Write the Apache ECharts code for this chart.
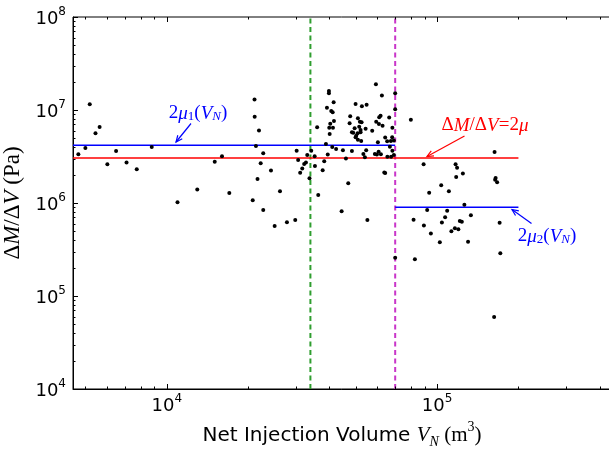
<!DOCTYPE html>
<html><head><meta charset="utf-8">
<script src="https://cdn.jsdelivr.net/npm/echarts@6/dist/echarts.min.js"></script>
<style>html,body{margin:0;padding:0;background:#fff}#c{width:609px;height:450px}</style>
</head><body><div id="c"></div>
<script>
// ---- axis ranges and ticks ----
const xRange = [4500, 500000];
const yRange = [1e4, 1e8];
const xMajorTicks = [1e4, 1e5];
const xMinorTicks = [5000, 6000, 7000, 8000, 9000, 2e4, 3e4, 4e4, 5e4, 6e4, 7e4, 8e4, 9e4, 2e5, 3e5, 4e5];
const yMajorTicks = [1e4, 1e5, 1e6, 1e7, 1e8];
const yMinorTicks = [2e4,3e4,4e4,5e4,6e4,7e4,8e4,9e4,2e5,3e5,4e5,5e5,6e5,7e5,8e5,9e5,
  2e6,3e6,4e6,5e6,6e6,7e6,8e6,9e6,2e7,3e7,4e7,5e7,6e7,7e7,8e7,9e7];

// ---- fitted levels ----
const splitVolumes = [34000, 70000];   // green, magenta dashed lines
const fitEndVolume = 200000;
const twoMu = 3.05e6;   // ΔM/ΔV = 2μ
const twoMu1 = 4.17e6;  // 2μ1(V_N), V_N < 70000
const twoMu2 = 9.0e5;   // 2μ2(V_N), V_N > 70000

// ---- observations [V_N (m^3), ΔM/ΔV (Pa)] ----
const observations = [
 [4710,3.34e6],[5000,3.90e6],[5190,1.15e7],[5450,5.62e6],[5645,6.56e6],[6030,2.61e6],[6495,3.62e6],
 [7100,2.73e6],[7745,2.30e6],[8800,4.00e6],[10960,1.02e6],[12970,1.40e6],[15050,2.78e6],[16010,3.18e6],
 [17040,1.28e6],[21120,1.30e7],[21150,8.47e6],[21940,6.02e6],[21380,4.10e6],[22750,3.42e6],[22260,2.67e6],
 [24300,2.24e6],[21670,1.81e6],[26240,1.34e6],[20800,1.07e6],[22750,8.41e5],[25070,5.66e5],[27840,6.20e5],
 [29880,6.56e5],[30240,3.65e6],[30630,2.90e6],[33100,3.28e6],[32240,2.63e6],[32730,2.73e6],[31720,2.35e6],
 [31160,2.12e6],[33730,1.84e6],[34240,3.65e6],[35250,3.18e6],[35340,2.50e6],[36340,1.22e6],[36010,6.52e6],
 [37740,2.25e6],[38250,2.81e6],[39410,3.33e6],[38810,4.31e6],[40950,4.00e6],[42320,3.81e6],[44850,3.70e6],
 [46020,3.01e6],[48420,3.62e6],[46930,1.63e6],[44360,8.16e5],[55240,6.56e5],[39810,1.60e7],[39810,1.51e7],
 [41440,1.21e7],[39140,1.06e7],[40600,9.75e6],[41100,9.45e6],[41550,7.62e6],[40260,7.12e6],[39920,6.45e6],
 [41200,6.45e6],[40060,5.52e6],[49960,1.16e7],[52720,1.10e7],[54880,1.14e7],[47720,8.56e6],[47480,7.19e6],
 [50950,8.14e6],[51820,7.49e6],[52580,7.38e6],[51520,6.61e6],[49550,6.36e6],[48420,5.76e6],[48960,5.70e6],
 [52130,6.10e6],[50820,5.62e6],[52130,5.76e6],[50230,5.29e6],[49960,5.09e6],[50950,4.79e6],[52400,4.64e6],
 [54410,6.30e6],[54680,3.69e6],[53390,3.37e6],[54080,3.10e6],[58880,3.37e6],[59900,3.32e6],[60780,3.56e6],
 [61980,3.34e6],[60410,4.49e6],[57560,5.99e6],[59550,7.49e6],[61090,8.35e6],[61810,8.69e6],[60950,7.07e6],
 [62870,6.78e6],[59400,1.89e7],[62510,1.43e7],[66520,8.31e6],[68350,6.45e6],[64290,5.06e6],[65390,4.61e6],
 [67480,4.64e6],[68230,5.09e6],[69220,4.70e6],[66910,4.03e6],[68350,3.65e6],[65500,3.14e6],[67610,3.14e6],
 [69220,3.28e6],[69990,1.51e7],[69990,1.02e7],[63800,2.13e6],[64300,2.10e6],[80000,7.87e6],[69990,2.58e5],
 [82800,2.49e5],[162600,5.95e4],[163200,3.54e6],[89170,2.61e6],[117100,2.61e6],[118600,2.40e6],[124600,2.07e6],
 [117700,1.90e6],[164700,1.86e6],[164000,1.78e6],[166800,1.67e6],[103600,1.55e6],[110600,1.34e6],[93500,1.29e6],
 [126200,9.59e5],[91920,8.41e5],[109000,8.27e5],[133400,7.38e5],[107100,7.02e5],[81860,6.61e5],[104200,6.17e5],
 [121400,6.41e5],[123500,6.30e5],[170400,6.14e5],[89400,5.73e5],[116400,5.35e5],[119900,5.23e5],[113000,4.96e5],
 [94870,4.70e5],[102400,3.79e5],[130200,3.84e5],[171400,2.89e5]
];

// ---- build ----
const tickData = [];
xMajorTicks.forEach(v => tickData.push([v, yRange[0], 0, 5]));
xMinorTicks.forEach(v => tickData.push([v, yRange[0], 0, 2.5]));
yMajorTicks.forEach(v => tickData.push([xRange[0], v, 1, 5]));
yMinorTicks.forEach(v => tickData.push([xRange[0], v, 1, 2.5]));

const sansLbl = {
  b: {fontSize: 18, fontFamily: 'DejaVu Sans', color: '#000', lineHeight: 22, verticalAlign: 'bottom'},
  s: {fontSize: 12, fontFamily: 'DejaVu Sans', color: '#000', lineHeight: 14, verticalAlign: 'top'}
};
const expFmt = v => '{b|10}{s|' + Math.round(Math.log10(v)) + '}';

const chart = echarts.init(document.getElementById('c'), null, {renderer: 'canvas'});
const serif = 'Liberation Serif';
chart.setOption({
  animation: false,
  backgroundColor: '#fff',
  grid: {left: 73, top: 17, width: 553, height: 372, show: true, borderColor: '#000', borderWidth: 1,
         backgroundColor: 'transparent', containLabel: false, outerBoundsMode: 'none'},
  xAxis: {
    type: 'log', logBase: 10, min: xRange[0], max: xRange[1],
    axisLine: {show: true, lineStyle: {color: '#000', width: 1}},
    axisTick: {show: false}, splitLine: {show: false}, minorTick: {show: false},
    axisLabel: {formatter: expFmt, showMinLabel: false, showMaxLabel: false, margin: 4, rich: sansLbl},
    name: '{s|Net Injection Volume }{i|V}{sub|N}{m| (m}{sup|3}{m|)}',
    nameLocation: 'middle', nameGap: 26,
    nameTextStyle: {
      padding: [0, 15, 0, 0],
      rich: {
        s: {fontFamily: 'DejaVu Sans', fontSize: 20, color: '#000', lineHeight: 26, verticalAlign: 'bottom'},
        i: {fontFamily: serif, fontStyle: 'italic', fontSize: 21, color: '#000', lineHeight: 26, verticalAlign: 'bottom'},
        m: {fontFamily: serif, fontSize: 21, color: '#000', lineHeight: 26, verticalAlign: 'bottom'},
        sub: {fontFamily: serif, fontStyle: 'italic', fontSize: 14, color: '#000', lineHeight: 14, verticalAlign: 'bottom', padding: [0,0,-3,0]},
        sup: {fontFamily: serif, fontSize: 14, color: '#000', lineHeight: 14, verticalAlign: 'top'}
      }
    }
  },
  yAxis: {
    type: 'log', logBase: 10, min: yRange[0], max: yRange[1],
    axisLine: {show: true, lineStyle: {color: '#000', width: 1}},
    axisTick: {show: false}, splitLine: {show: false}, minorTick: {show: false},
    axisLabel: {formatter: expFmt, margin: 7, rich: sansLbl},
    name: '{u|Δ}{i|M}{u|/Δ}{i|V}{u| (Pa)}',
    nameLocation: 'middle', nameGap: 40,
    nameTextStyle: {
      rich: {
        u: {fontFamily: serif, fontSize: 23, color: '#000'},
        i: {fontFamily: serif, fontStyle: 'italic', fontSize: 23, color: '#000'}
      }
    }
  },
  series: [
    {type: 'line', data: [[splitVolumes[0], yRange[0]], [splitVolumes[0], yRange[1]]], symbol: 'none',
     lineStyle: {color: '#2f9e2f', width: 2, type: [5, 3.5]}, z: 2},
    {type: 'line', data: [[splitVolumes[1], yRange[0]], [splitVolumes[1], yRange[1]]], symbol: 'none',
     lineStyle: {color: '#c936c9', width: 2, type: [5, 3.5]}, z: 2},
    {type: 'line', data: [[xRange[0], twoMu], [fitEndVolume, twoMu]], symbol: 'none',
     lineStyle: {color: '#ff0000', width: 1.5}, z: 3},
    {type: 'line', data: [[xRange[0], twoMu1], [splitVolumes[1], twoMu1]], symbol: 'none',
     lineStyle: {color: '#0000ff', width: 1.5}, z: 3},
    {type: 'line', data: [[splitVolumes[1], twoMu2], [fitEndVolume, twoMu2]], symbol: 'none',
     lineStyle: {color: '#0000ff', width: 1.5}, z: 3},
    {type: 'scatter', data: observations, symbol: 'circle', symbolSize: 4,
     itemStyle: {color: '#000', opacity: 1}, z: 5},
    {type: 'custom', data: tickData, encode: {x: 0, y: 1}, z: 6, silent: true,
     renderItem: function (params, api) {
       const v0 = api.value(0), v1 = api.value(1), dir = api.value(2), len = api.value(3);
       const st = {stroke: '#000', lineWidth: 1};
       if (dir === 0) {
         const b = api.coord([v0, yRange[0]]), t = api.coord([v0, yRange[1]]);
         const x = Math.round(b[0]) + 0.5;
         return {type: 'group', children: [
           {type: 'line', shape: {x1: x, y1: b[1], x2: x, y2: b[1] - len}, style: st},
           {type: 'line', shape: {x1: x, y1: t[1], x2: x, y2: t[1] + len}, style: st}
         ]};
       }
       const l = api.coord([xRange[0], v1]);
       const y = Math.round(l[1]) + 0.5;
       return {type: 'line', shape: {x1: l[0], y1: y, x2: l[0] + len, y2: y}, style: st};
     }}
  ]
});

// ---- annotations ----
function arrow(sx, sy, tx, ty, color) {
  const dx = tx - sx, dy = ty - sy, L = Math.hypot(dx, dy);
  const ux = dx / L, uy = dy / L, h = 7, a = 0.42;
  const c = Math.cos(a), s = Math.sin(a);
  const p1 = [tx - h * (ux * c - uy * s), ty - h * (uy * c + ux * s)];
  const p2 = [tx - h * (ux * c + uy * s), ty - h * (uy * c - ux * s)];
  return [
    {type: 'line', shape: {x1: sx, y1: sy, x2: tx, y2: ty}, style: {stroke: color, lineWidth: 1.2}, z: 10},
    {type: 'polyline', shape: {points: [p1, [tx, ty], p2]}, style: {stroke: color, lineWidth: 1.2, fill: null}, z: 10}
  ];
}
function mathRich(color) {
  return {
    n: {fontFamily: serif, fontSize: 19, fill: color, lineHeight: 22, verticalAlign: 'bottom'},
    i: {fontFamily: serif, fontStyle: 'italic', fontSize: 19, fill: color, lineHeight: 22, verticalAlign: 'bottom'},
    sub: {fontFamily: serif, fontSize: 13, fill: color, lineHeight: 12, verticalAlign: 'bottom'},
    subi: {fontFamily: serif, fontStyle: 'italic', fontSize: 13, fill: color, lineHeight: 12, verticalAlign: 'bottom'}
  };
}
const gfx = [];
gfx.push({type: 'text', x: 198, y: 112, z: 10, style: {
  text: '{n|2}{i|μ}{sub|1}{n|(}{i|V}{subi|N}{n|)}', rich: mathRich('#0000ff'), align: 'center', verticalAlign: 'middle'}});
gfx.push({type: 'text', x: 485, y: 124, z: 10, style: {
  text: '{n|Δ}{i|M}{n|/Δ}{i|V}{n|=2}{i|μ}', rich: mathRich('#ff0000'), align: 'center', verticalAlign: 'middle'}});
gfx.push({type: 'text', x: 547, y: 235, z: 10, style: {
  text: '{n|2}{i|μ}{sub|2}{n|(}{i|V}{subi|N}{n|)}', rich: mathRich('#0000ff'), align: 'center', verticalAlign: 'middle'}});
gfx.push(...arrow(191, 123.5, 176, 142, '#0000ff'));
gfx.push(...arrow(464.5, 136, 427, 156.5, '#ff0000'));
gfx.push(...arrow(531.5, 223.5, 512, 209.5, '#0000ff'));
chart.setOption({graphic: gfx});
</script></body></html>
